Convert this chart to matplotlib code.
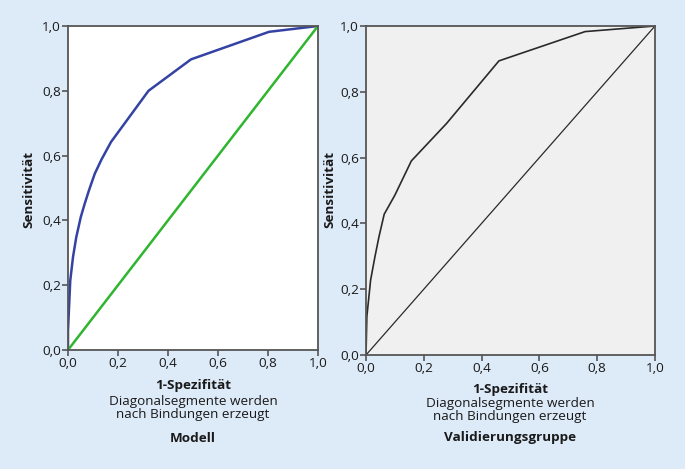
import matplotlib
matplotlib.use("Agg")
import matplotlib.pyplot as plt

plt.rcParams['font.family'] = ['Open Sans', 'DejaVu Sans']

# ROC Modell
model_fpr = [0.0, 0.0, 0.009, 0.02, 0.033, 0.051, 0.067, 0.084, 0.107, 0.134,
             0.172, 0.322, 0.492, 0.804, 1.0]
model_tpr = [0.0, 0.06, 0.214, 0.287, 0.348, 0.41, 0.452, 0.493, 0.544, 0.588,
             0.642, 0.80, 0.897, 0.982, 1.0]

# ROC Validierungsgruppe
val_fpr = [0.0, 0.003, 0.016, 0.031, 0.045, 0.063, 0.1, 0.157, 0.279, 0.46, 0.758, 1.0]
val_tpr = [0.0, 0.117, 0.228, 0.299, 0.36, 0.428, 0.486, 0.59, 0.704, 0.894, 0.983, 1.0]

ticks = [0.0, 0.2, 0.4, 0.6, 0.8, 1.0]
tick_labels = ['0,0', '0,2', '0,4', '0,6', '0,8', '1,0']

bg = '#ddeaf8'
W, H = 685, 469
fig = plt.figure(figsize=(6.85, 4.69), dpi=100, facecolor=bg)

ax1 = fig.add_axes([68/W, 119/H, 250/W, 324/H])
ax2 = fig.add_axes([366/W, 114/H, 289/W, 329/H])

ax1.plot(model_fpr, model_tpr, color='#3443a3', lw=1.8, solid_joinstyle='round')
ax1.plot([0, 1], [0, 1], color='#2fb52f', lw=1.8)
ax1.set_facecolor('white')

ax2.plot(val_fpr, val_tpr, color='#2a2a2a', lw=1.2)
ax2.plot([0, 1], [0, 1], color='#2a2a2a', lw=0.9)
ax2.set_facecolor('#f0f0f0')

fs = 9.7
panels = [(ax1, 'Modell', 193, 29, [385, 403, 438]),
          (ax2, 'Validierungsgruppe', 510, 330, [389, 405, 437])]
for ax, sub, xc, ylab_x, ys in panels:
    ax.set_xlim(0, 1)
    ax.set_ylim(0, 1)
    ax.set_xticks(ticks)
    ax.set_xticklabels(tick_labels)
    ax.set_yticks(ticks)
    ax.set_yticklabels(tick_labels)
    ax.tick_params(direction='out', length=4, width=1.2, color='#555555',
                   labelsize=fs, labelcolor='#1a1a1a', pad=1)
    for s in ax.spines.values():
        s.set_color('#555555')
        s.set_linewidth(1.3)
    fig.text(ylab_x/W, 1 - 190/H, 'Sensitivität', rotation=90, ha='center', va='center',
             fontsize=fs, fontweight='bold', color='#1a1a1a')
    fig.text(xc/W, 1 - ys[0]/H, '1-Spezifität', ha='center', va='center',
             fontsize=fs, fontweight='bold', color='#1a1a1a')
    fig.text(xc/W, 1 - (ys[1] - 8)/H, 'Diagonalsegmente werden\nnach Bindungen erzeugt',
             ha='center', va='top', fontsize=fs, linespacing=0.95, color='#1a1a1a')
    fig.text(xc/W, 1 - ys[2]/H, sub, ha='center', va='center',
             fontsize=fs, fontweight='bold', color='#1a1a1a')

fig.savefig('out.png', dpi=100, facecolor=bg)
